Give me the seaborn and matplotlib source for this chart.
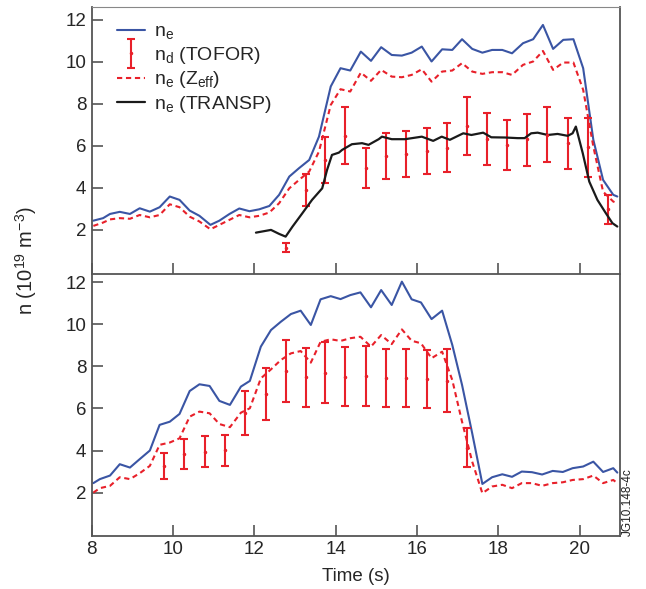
import numpy as np
import pandas as pd
import matplotlib
matplotlib.use("Agg")
import matplotlib.pyplot as plt
from matplotlib.legend_handler import HandlerErrorbar
import seaborn as sns

# ---------------- data ----------------
# Top panel
t_top = [8.04, 8.28, 8.45, 8.69, 8.94, 9.18, 9.43, 9.67, 9.92, 10.16, 10.41, 10.65,
         10.92, 11.14, 11.39, 11.63, 11.88, 12.12, 12.37, 12.61, 12.86, 13.10, 13.35,
         13.59, 13.88, 14.12, 14.36, 14.62, 14.87, 15.12, 15.38, 15.63, 15.87, 16.12,
         16.36, 16.62, 16.87, 17.11, 17.36, 17.61, 17.85, 18.10, 18.34, 18.61, 18.86,
         19.10, 19.35, 19.60, 19.85, 20.09, 20.34, 20.58, 20.83, 20.93]
ne_top = [2.44, 2.56, 2.76, 2.86, 2.76, 3.03, 2.87, 3.08, 3.59, 3.43, 2.92, 2.67,
          2.24, 2.44, 2.76, 3.02, 2.89, 2.98, 3.14, 3.67, 4.54, 4.94, 5.33,
          6.44, 8.83, 9.70, 9.59, 10.49, 10.05, 10.70, 10.33, 10.30, 10.44, 10.73,
          10.02, 10.60, 10.57, 11.08, 10.62, 10.44, 10.57, 10.57, 10.41, 10.89, 11.08,
          11.76, 10.62, 11.05, 11.08, 9.70, 6.29, 4.38, 3.67, 3.59]
zeff_top = [2.19, 2.35, 2.50, 2.56, 2.53, 2.71, 2.60, 2.71, 3.22, 3.08, 2.63, 2.40,
            2.03, 2.24, 2.48, 2.71, 2.60, 2.67, 2.83, 3.27, 3.98, 4.38, 4.78,
            5.73, 7.95, 8.70, 8.59, 9.49, 9.10, 9.62, 9.30, 9.27, 9.38, 9.65,
            9.06, 9.54, 9.59, 9.94, 9.54, 9.43, 9.51, 9.51, 9.38, 9.86, 10.02,
            10.52, 9.62, 9.97, 9.97, 8.67, 5.97, 3.82, 3.35, 3.27]
t_transp = [12.04, 12.41, 12.61, 12.77, 12.94, 13.18, 13.42, 13.67, 13.79, 13.91,
            14.08, 14.16, 14.40, 14.65, 14.81, 15.06, 15.14, 15.38, 15.71, 16.12,
            16.40, 16.61, 16.81, 17.14, 17.34, 17.63, 17.83, 18.16, 18.48, 18.65,
            18.81, 18.97, 19.22, 19.46, 19.71, 19.83, 19.91, 20.08, 20.24, 20.44,
            20.65, 20.81, 20.93]
ne_transp = [1.87, 2.00, 1.81, 1.68, 2.16, 2.79, 3.43, 3.98, 4.86, 5.57,
             5.68, 5.81, 6.08, 6.13, 6.05, 6.32, 6.44, 6.32, 6.32, 6.44,
             6.24, 6.44, 6.29, 6.60, 6.52, 6.63, 6.41, 6.40, 6.37, 6.37,
             6.60, 6.63, 6.52, 6.57, 6.48, 6.60, 6.92, 5.65, 4.30, 3.43,
             2.79, 2.32, 2.16]
t_tofor_top = [12.77, 13.26, 13.75, 14.24, 14.75, 15.25, 15.74, 16.24, 16.73,
               17.23, 17.73, 18.22, 18.71, 19.21, 19.71, 20.20, 20.70]
nd_top = [1.13, 3.90, 5.33, 6.49, 4.94, 5.54, 5.63, 5.76, 5.92,
          6.95, 6.33, 6.05, 6.32, 6.52, 6.13, 5.93, 2.98]
nd_top_hi = [1.37, 4.67, 6.41, 7.83, 5.90, 6.63, 6.73, 6.87, 7.08,
             8.32, 7.59, 7.21, 7.54, 7.84, 7.35, 7.32, 3.67]
nd_top_lo = [0.94, 3.14, 4.25, 5.14, 3.98, 4.43, 4.54, 4.65, 4.75,
             5.57, 5.10, 4.86, 5.06, 5.22, 4.89, 4.54, 2.27]

# Bottom panel
t_bot = [8.04, 8.20, 8.45, 8.69, 8.94, 9.18, 9.43, 9.67, 9.92, 10.16, 10.41, 10.65,
         10.90, 11.14, 11.40, 11.67, 11.89, 12.16, 12.41, 12.65, 12.90, 13.14, 13.39,
         13.63, 13.88, 14.12, 14.36, 14.61, 14.87, 15.12, 15.38, 15.63, 15.87, 16.10,
         16.36, 16.62, 16.87, 17.11, 17.36, 17.61, 17.85, 18.10, 18.34, 18.58, 18.83,
         19.08, 19.34, 19.59, 19.83, 20.09, 20.34, 20.58, 20.83, 20.93]
ne_bot = [2.45, 2.64, 2.81, 3.35, 3.19, 3.59, 4.00, 5.22, 5.37, 5.74, 6.83, 7.15,
          7.07, 6.36, 6.17, 7.04, 7.31, 8.94, 9.73, 10.12, 10.49, 10.65, 9.97,
          11.19, 11.34, 11.20, 11.39, 11.52, 10.81, 11.63, 10.92, 12.03, 11.19, 11.04,
          10.25, 10.65, 9.02, 7.12, 4.82, 2.41, 2.73, 2.87, 2.75, 3.00, 2.97,
          2.86, 3.03, 2.98, 3.16, 3.24, 3.47, 2.98, 3.16, 2.95]
zeff_bot = [2.00, 2.21, 2.32, 2.73, 2.64, 2.92, 3.27, 4.27, 4.38, 4.58, 5.61, 5.85,
            5.77, 5.26, 5.11, 5.80, 6.01, 7.43, 7.86, 8.30, 8.62, 8.73, 8.18,
            9.17, 9.29, 9.21, 9.34, 9.41, 8.94, 9.49, 9.06, 9.76, 9.22, 9.10,
            8.39, 8.70, 7.35, 5.37, 3.47, 1.97, 2.29, 2.37, 2.21, 2.45, 2.45,
            2.32, 2.45, 2.49, 2.60, 2.64, 2.81, 2.45, 2.60, 2.45]
t_tofor_bot = [9.79, 10.28, 10.78, 11.28, 11.78, 12.28, 12.77, 13.26, 13.75,
               14.24, 14.75, 15.25, 15.74, 16.24, 16.73, 17.23]
nd_bot = [3.27, 3.85, 3.95, 4.01, 5.80, 6.69, 7.80, 7.48, 7.67,
          7.51, 7.54, 7.43, 7.43, 7.40, 7.32, 4.14]
nd_bot_hi = [3.87, 4.55, 4.71, 4.74, 6.85, 7.94, 9.25, 8.86, 9.17,
             8.94, 8.97, 8.83, 8.83, 8.78, 8.81, 5.06]
nd_bot_lo = [2.65, 3.14, 3.21, 3.28, 4.74, 5.44, 6.32, 6.09, 6.25,
             6.12, 6.12, 6.06, 6.06, 6.01, 5.82, 3.21]

x_ticks = [8, 10, 12, 14, 16, 18, 20]
y_ticks = [2, 4, 6, 8, 10, 12]

# ---------------- style ----------------
sns.set_theme(style="ticks")
plt.rcParams['font.family'] = ['Liberation Sans', 'DejaVu Sans']
plt.rcParams['mathtext.fontset'] = 'custom'
plt.rcParams['mathtext.rm'] = 'Liberation Sans'
plt.rcParams['mathtext.it'] = 'Liberation Sans'

BLUE = "#3a55a4"
RED = "#e8202a"
BLACK = "#1a1a1a"
SPINE = "#555555"
FS = 13.5

fig = plt.figure(figsize=(6.46, 5.89), dpi=100)
ax1 = fig.add_axes([0.142, 0.5348, 0.818, 0.4528])
ax2 = fig.add_axes([0.142, 0.0905, 0.818, 0.4431])

df_top = pd.DataFrame({"t": t_top, "ne": ne_top, "zeff": zeff_top})
df_tr = pd.DataFrame({"t": t_transp, "ne": ne_transp})
df_bot = pd.DataFrame({"t": t_bot, "ne": ne_bot, "zeff": zeff_bot})


def draw(ax, df, t_nd, nd, hi, lo, transp=None):
    sns.lineplot(data=df, x="t", y="ne", ax=ax, color=BLUE, lw=1.5,
                 estimator=None, sort=False, label="n$_\\mathregular{e}$")
    err = [np.array(nd) - np.array(lo), np.array(hi) - np.array(nd)]
    ax.errorbar(t_nd, nd, yerr=err, fmt='.', color=RED, ms=3, elinewidth=1.5,
                capsize=3.2, capthick=1.5, label="n$_\\mathregular{d}$ (TOFOR)")
    sns.lineplot(data=df, x="t", y="zeff", ax=ax, color=RED, lw=1.5,
                 estimator=None, sort=False, dashes=False,
                 label="n$_\\mathregular{e}$ (Z$_\\mathregular{eff}$)")
    ax.lines[-1].set_linestyle((0, (2.5, 1.8)))
    if transp is not None:
        sns.lineplot(data=transp, x="t", y="ne", ax=ax, color=BLACK, lw=1.6,
                     estimator=None, sort=False, label="n$_\\mathregular{e}$ (TRANSP)")
    ax.set_xlim(8, 21)
    ax.set_xticks(x_ticks)
    ax.set_yticks(y_ticks)
    ax.set_xlabel("")
    ax.set_ylabel("")
    ax.tick_params(direction='in', length=8, width=1.2, color=SPINE,
                   labelsize=FS, pad=4)
    for s in ax.spines.values():
        s.set_color(SPINE)
        s.set_linewidth(1.3)


draw(ax1, df_top, t_tofor_top, nd_top, nd_top_hi, nd_top_lo, transp=df_tr)
draw(ax2, df_bot, t_tofor_bot, nd_bot, nd_bot_hi, nd_bot_lo)

ax1.set_ylim(-0.1, 12.6)
ax2.set_ylim(-0.05, 12.36)
ax1.tick_params(axis='x', labelbottom=False)
ax1.spines['top'].set_linewidth(0.8)
ax1.spines['top'].set_color("#888888")
ax2.spines['top'].set_visible(False)

# legend in top panel, in the reference order
h, l = ax1.get_legend_handles_labels()
order = ["n$_\\mathregular{e}$", "n$_\\mathregular{d}$ (TOFOR)",
         "n$_\\mathregular{e}$ (Z$_\\mathregular{eff}$)", "n$_\\mathregular{e}$ (TRANSP)"]
hd = dict(zip(l, h))
leg = ax1.legend([hd[k] for k in order], order, loc='upper left', frameon=False,
                 fontsize=14, handlelength=1.45, handletextpad=0.45,
                 labelspacing=0.18, borderaxespad=0.4,
                 bbox_to_anchor=(0.018, 1.0),
                 handler_map={type(hd[order[1]]): HandlerErrorbar(xerr_size=0.25, yerr_size=0.75)})
if ax2.get_legend() is not None:
    ax2.get_legend().remove()

ax2.set_xlabel("Time (s)", fontsize=FS, labelpad=7)
fig.text(0.041, 0.557, "n (10$^{\\mathregular{19}}$ m$^{\\mathregular{-3}}$)",
         rotation=90, ha='center', va='center', fontsize=14.5)
fig.text(0.972, 0.148, "JG10.148-4c", rotation=90, ha='center', va='center',
         fontsize=8.5, color="#222222")

fig.savefig("out.png", dpi=100)
